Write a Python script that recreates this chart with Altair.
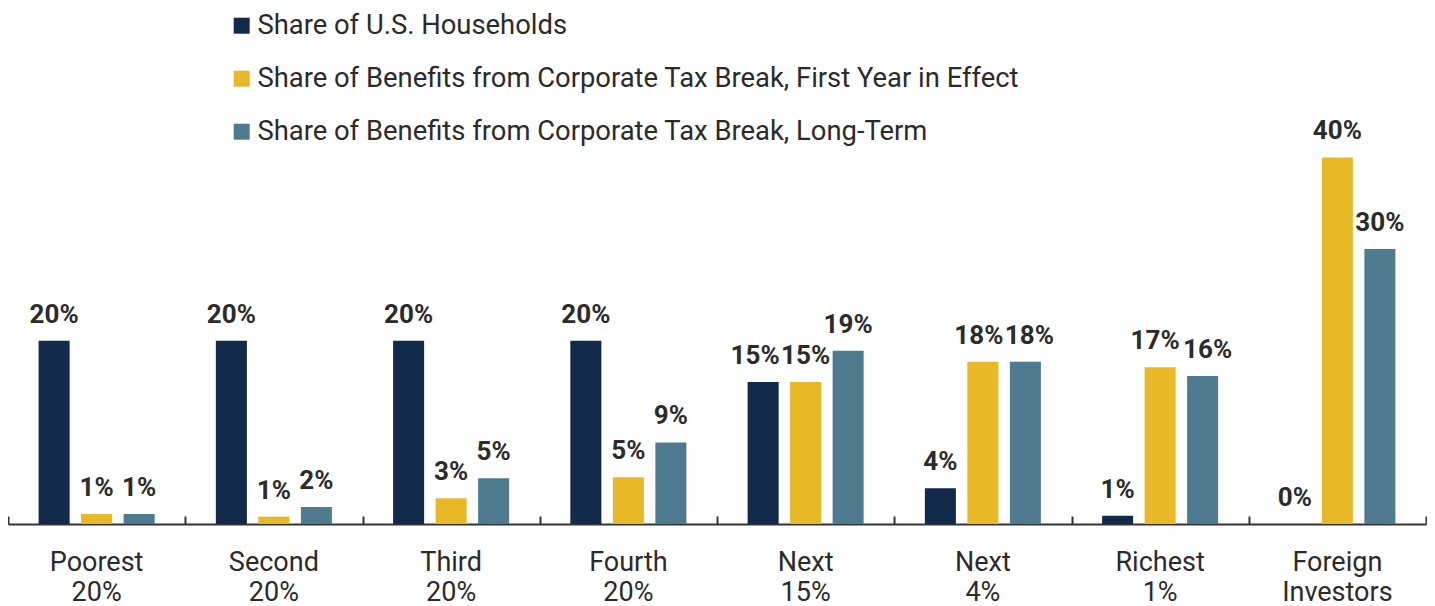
import altair as alt
import pandas as pd

categories = ["Poorest 20%", "Second 20%", "Third 20%", "Fourth 20%",
              "Next 15%", "Next 4%", "Richest 1%", "Foreign Investors"]
series = ["Share of U.S. Households",
          "Share of Benefits from Corporate Tax Break, First Year in Effect",
          "Share of Benefits from Corporate Tax Break, Long-Term"]
households = [20, 20, 20, 20, 15.5, 3.9, 0.9, 0]
first_year = [1.1, 0.8, 2.8, 5.1, 15.5, 17.7, 17.1, 40]
long_term = [1.1, 1.85, 5.0, 8.9, 18.9, 17.7, 16.15, 30]
households_lbl = ["20%", "20%", "20%", "20%", "15%", "4%", "1%", "0%"]
first_year_lbl = ["1%", "1%", "3%", "5%", "15%", "18%", "17%", "40%"]
long_term_lbl = ["1%", "2%", "5%", "9%", "19%", "18%", "16%", "30%"]
colors = ["#13294b", "#e8b826", "#4e7b90"]

# small horizontal nudges (px) applied to crowded value labels
label_nudges = {
    ("Next 15%", series[0]): -8,
    ("Next 4%", series[1]): -4,
    ("Next 4%", series[2]): 4,
    ("Richest 1%", series[1]): -5,
    ("Richest 1%", series[2]): 5,
}

rows = []
for s, vals, lbls in zip(series, [households, first_year, long_term],
                         [households_lbl, first_year_lbl, long_term_lbl]):
    for c, v, l in zip(categories, vals, lbls):
        rows.append({"category": c, "series": s, "value": v, "label": l,
                     "nudge": label_nudges.get((c, s), 0)})
df = pd.DataFrame(rows)

FONT = "Roboto"
TXT = "#2b2b2b"
H = 516

x_enc = alt.X("category:N", sort=categories,
              scale=alt.Scale(paddingInner=0, paddingOuter=0))
xo_enc = alt.XOffset("series:N", sort=series,
                     scale=alt.Scale(paddingInner=0.27, paddingOuter=0.72))
y_enc = alt.Y("value:Q", scale=alt.Scale(domain=[0, 56.3], nice=False, zero=True),
              axis=None)

bars = alt.Chart(df).mark_bar().encode(
    x=x_enc.axis(
        title=None, labelAngle=0, ticks=False, domain=True,
        domainColor="#333333", domainWidth=2,
        labelExpr="split(datum.label, ' ')",
        labelFont=FONT, labelFontSize=27, labelColor=TXT,
        labelPadding=25, labelLineHeight=30, labelBaseline="top"),
    xOffset=xo_enc,
    y=y_enc,
    color=alt.Color("series:N", sort=series,
                    scale=alt.Scale(domain=series, range=colors),
                    legend=alt.Legend(
                        title=None, orient="none", legendX=220, legendY=4,
                        direction="vertical", symbolType="square",
                        symbolSize=256, symbolStrokeWidth=0,
                        labelFont=FONT, labelFontSize=27.4, labelColor=TXT,
                        labelLimit=1200, labelOffset=2, rowPadding=24,
                        padding=0)),
)

label_layers = []
first = True
for n in sorted(set(df["nudge"])):
    x_lbl = alt.X("category:N", sort=categories,
                  scale=alt.Scale(paddingInner=0, paddingOuter=0))
    if first:
        x_lbl = x_lbl.axis(orient="top", offset=-H, labels=False, domain=False,
                           ticks=True, tickBand="extent", tickSize=8,
                           tickWidth=2, tickColor="#333333", title=None)
    else:
        x_lbl = x_lbl.axis(None)
    first = False
    label_layers.append(
        alt.Chart(df).transform_filter(alt.datum.nudge == int(n)).mark_text(
            font=FONT, fontSize=26, fontWeight="bold", color=TXT,
            baseline="alphabetic", dy=-18, dx=int(n)
        ).encode(x=x_lbl, xOffset=xo_enc, y=y_enc, text="label:N")
    )

chart = alt.layer(bars, *label_layers).resolve_axis(x="independent").properties(
    width=1418, height=H,
    autosize=alt.AutoSizeParams(type="none"),
    padding={"left": 0, "top": 0, "right": 1, "bottom": 82},
    background="white",
).configure_view(stroke=None)

chart.save("out.html", embed_options={"renderer": "svg", "actions": False})
